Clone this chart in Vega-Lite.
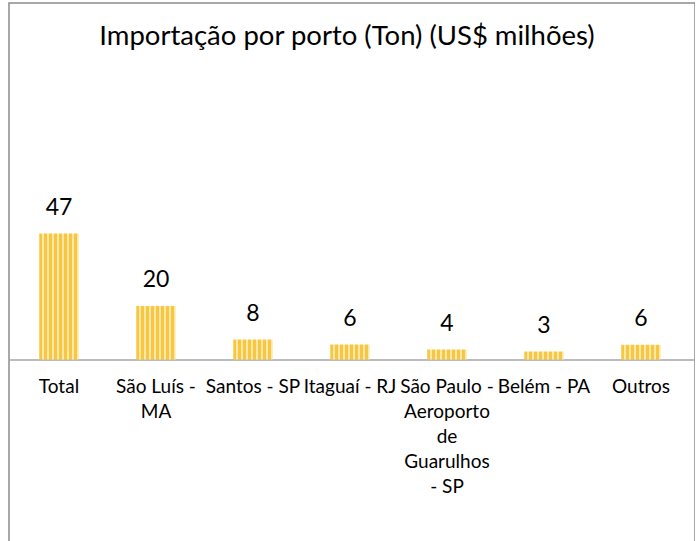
{
  "$schema": "https://vega.github.io/schema/vega-lite/v6.json",
  "width": 686,
  "height": 560,
  "autosize": {"type": "none"},
  "padding": {"left": 9, "top": 3, "right": 0, "bottom": 0},
  "background": "white",
  "title": {
    "text": "Importação por porto (Ton) (US$ milhões)",
    "font": "Lato",
    "fontSize": 27.5,
    "fontWeight": "normal",
    "color": "black",
    "anchor": "middle",
    "frame": "group",
    "baseline": "alphabetic",
    "offset": -69,
    "dx": -5
  },
  "data": {
    "values": [
      {"porto": "Total", "valor": 47},
      {"porto": "São Luís - MA", "valor": 20},
      {"porto": "Santos - SP", "valor": 7.5},
      {"porto": "Itaguaí - RJ", "valor": 5.6},
      {"porto": "São Paulo - Aeroporto de Guarulhos - SP", "valor": 3.7},
      {"porto": "Belém - PA", "valor": 3.0},
      {"porto": "Outros", "valor": 5.5}
    ]
  },
  "encoding": {
    "x": {
      "field": "porto",
      "type": "nominal",
      "sort": null,
      "scale": {"paddingInner": 0.593, "paddingOuter": 0.3325, "align": 0.469},
      "axis": {
        "title": null,
        "offset": -203.5,
        "domainColor": "#A6A6A6",
        "domainWidth": 1.5,
        "ticks": false,
        "grid": false,
        "labelAngle": 0,
        "labelFont": "Lato",
        "labelFontSize": 19,
        "labelColor": "black",
        "labelPadding": 18,
        "labelLineHeight": 25,
        "labelOverlap": false,
        "labelBound": false,
        "labelLimit": 0,
        "labelExpr": "datum.value == 'São Luís - MA' ? ['São Luís -', 'MA'] : datum.value == 'São Paulo - Aeroporto de Guarulhos - SP' ? ['São Paulo -', 'Aeroporto', 'de', 'Guarulhos', '- SP'] : datum.value"
      }
    },
    "y": {
      "field": "valor",
      "type": "quantitative",
      "scale": {"domain": [-75.9, 133.0], "nice": false, "zero": false},
      "axis": null
    }
  },
  "layer": [
    {
      "mark": {
        "type": "bar",
        "fill": {
          "gradient": "linear",
          "x1": 0, "y1": 0, "x2": 1, "y2": 0,
          "stops": [
            {"offset": 0, "color": "#F8C640"}, {"offset": 0.07, "color": "#F8C640"},
            {"offset": 0.07, "color": "#FCE9A8"}, {"offset": 0.125, "color": "#FCE9A8"},
            {"offset": 0.125, "color": "#F8C640"}, {"offset": 0.195, "color": "#F8C640"},
            {"offset": 0.195, "color": "#FCE9A8"}, {"offset": 0.25, "color": "#FCE9A8"},
            {"offset": 0.25, "color": "#F8C640"}, {"offset": 0.32, "color": "#F8C640"},
            {"offset": 0.32, "color": "#FCE9A8"}, {"offset": 0.375, "color": "#FCE9A8"},
            {"offset": 0.375, "color": "#F8C640"}, {"offset": 0.445, "color": "#F8C640"},
            {"offset": 0.445, "color": "#FCE9A8"}, {"offset": 0.5, "color": "#FCE9A8"},
            {"offset": 0.5, "color": "#F8C640"}, {"offset": 0.57, "color": "#F8C640"},
            {"offset": 0.57, "color": "#FCE9A8"}, {"offset": 0.625, "color": "#FCE9A8"},
            {"offset": 0.625, "color": "#F8C640"}, {"offset": 0.695, "color": "#F8C640"},
            {"offset": 0.695, "color": "#FCE9A8"}, {"offset": 0.75, "color": "#FCE9A8"},
            {"offset": 0.75, "color": "#F8C640"}, {"offset": 0.82, "color": "#F8C640"},
            {"offset": 0.82, "color": "#FCE9A8"}, {"offset": 0.875, "color": "#FCE9A8"},
            {"offset": 0.875, "color": "#F8C640"}, {"offset": 0.945, "color": "#F8C640"},
            {"offset": 0.945, "color": "#FCE9A8"}, {"offset": 1, "color": "#FCE9A8"}
          ]
        }
      }
    },
    {
      "mark": {
        "type": "text",
        "font": "Lato",
        "fontSize": 23,
        "color": "black",
        "baseline": "alphabetic",
        "align": "center",
        "dy": -18.5
      },
      "encoding": {
        "text": {"field": "valor", "type": "quantitative", "format": ".0f"}
      }
    }
  ],
  "config": {
    "view": {"stroke": "#8C8C8C", "strokeWidth": 1.5}
  }
}
